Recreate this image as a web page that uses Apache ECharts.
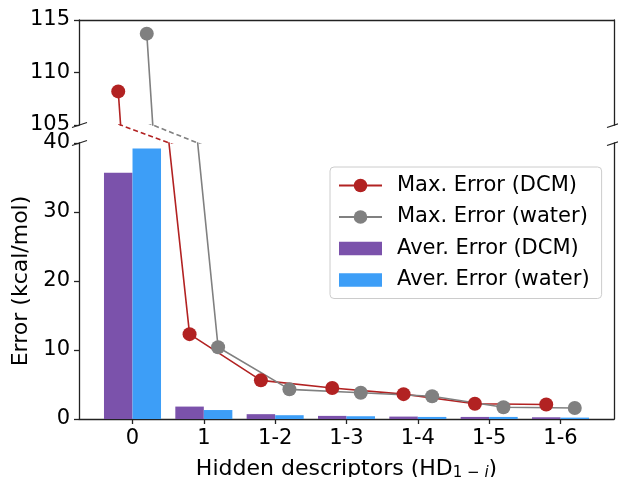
<!DOCTYPE html>
<html>
<head>
<meta charset="utf-8">
<script src="https://cdn.jsdelivr.net/npm/echarts@6/dist/echarts.min.js"></script>
<style>
  html, body { margin: 0; padding: 0; background: #fff; }
  #chart { width: 618px; height: 477px; }
</style>
</head>
<body>
<div id="chart"></div>
<script>
const categories = ['0', '1', '1-2', '1-3', '1-4', '1-5', '1-6'];
const max_dcm = [108.2, 12.3, 5.6, 4.5, 3.6, 2.2, 2.1];
const max_water = [113.7, 10.4, 4.3, 3.8, 3.3, 1.7, 1.6];
const aver_dcm = [35.7, 1.8, 0.7, 0.45, 0.35, 0.3, 0.25];
const aver_water = [39.2, 1.3, 0.55, 0.4, 0.3, 0.3, 0.2];

const red = '#b22222';
const grey = '#808080';
const purple = '#7b52ab';
const blue = '#3d9ef7';
const axis_color = '#222';
const font = 'DejaVu Sans';
const shift = 0.2;  // half the group width, DCM left / water right
const x_min = -0.75;
const x_max = 6.75;
// flat patch for the bar entries, so the legend can stay tall enough for the dots
const patch_icon = 'path://M0,0 L41,0 L41,13 L0,13 Z';

const at = (arr, d) => arr.map((v, i) => [i + d, v]);

const chart = echarts.init(document.getElementById('chart'));

const axis_line = { show: true, onZero: false, lineStyle: { color: axis_color, width: 1.3 } };
const tick = { show: true, length: 5, inside: false, lineStyle: { color: axis_color, width: 1.3 } };
const label = { color: '#000', fontSize: 21, fontFamily: font, margin: 9 };

function line_series(name, data, color, x_idx, y_idx, dashed) {
    return {
        name: name,
        type: 'line',
        xAxisIndex: x_idx,
        yAxisIndex: y_idx,
        data: data,
        clip: true,
        symbol: dashed ? 'none' : 'circle',
        symbolSize: 14,
        showSymbol: !dashed,
        itemStyle: { color: color },
        lineStyle: { color: color, width: 1.6, type: dashed ? [5, 3] : 'solid' },
        z: 5,
        animation: false,
    };
}

const option = {
    animation: false,
    grid: [
        { left: 79, right: 4, top: 20, height: 105, outerBoundsMode: 'none' },   // 105 - 115
        { left: 79, right: 4, top: 125, height: 18, outerBoundsMode: 'none' },   // gap, 40 - 105
        { left: 79, right: 4, top: 143, height: 276, outerBoundsMode: 'none' },  // 0 - 40
    ],
    xAxis: [
        {
            type: 'value', gridIndex: 0, position: 'top', min: x_min, max: x_max,
            axisLine: axis_line, axisTick: { show: false }, axisLabel: { show: false }, splitLine: { show: false },
        },
        {
            type: 'value', gridIndex: 1, min: x_min, max: x_max, show: false,
        },
        {
            type: 'value', gridIndex: 2, min: x_min, max: x_max,
            axisLine: axis_line,
            axisTick: Object.assign({ customValues: categories.map((_, i) => i) }, tick),
            axisLabel: Object.assign({
                customValues: categories.map((_, i) => i),
                formatter: (v) => categories[Math.round(v)],
            }, label),
            splitLine: { show: false },
            name: 'Hidden descriptors (HD{sub|1 − }{subi|i})',
            nameLocation: 'middle',
            nameGap: 38,
            nameTextStyle: {
                color: '#000', fontSize: 22, fontFamily: font,
                rich: {
                    sub: { fontSize: 15, fontFamily: font, color: '#000', verticalAlign: 'bottom', padding: [9, 0, 0, 0] },
                    subi: { fontSize: 15, fontFamily: font, fontStyle: 'italic', color: '#000', verticalAlign: 'bottom', padding: [9, 0, 0, 0] },
                },
            },
        },
    ],
    yAxis: [
        {
            type: 'value', gridIndex: 0, min: 105, max: 115, interval: 5,
            axisLine: axis_line, axisTick: tick, axisLabel: label, splitLine: { show: false },
        },
        {
            type: 'value', gridIndex: 0, position: 'right', min: 105, max: 115,
            axisLine: axis_line, axisTick: { show: false }, axisLabel: { show: false }, splitLine: { show: false },
        },
        {
            type: 'value', gridIndex: 1, min: 40, max: 105, show: false,
        },
        {
            type: 'value', gridIndex: 2, min: 0, max: 40, interval: 10,
            axisLine: axis_line, axisTick: tick, axisLabel: label, splitLine: { show: false },
            name: 'Error (kcal/mol)',
            nameLocation: 'middle',
            nameGap: 43,
            nameTextStyle: { color: '#000', fontSize: 22, fontFamily: font },
        },
        {
            type: 'value', gridIndex: 2, position: 'right', min: 0, max: 40,
            axisLine: axis_line, axisTick: { show: false }, axisLabel: { show: false }, splitLine: { show: false },
        },
    ],
    legend: {
        orient: 'vertical',
        left: 330,
        top: 167,
        padding: [8, 12, 8, 8],
        itemGap: 10.5,
        itemWidth: 43,
        itemHeight: 17,
        borderColor: '#cccccc',
        borderWidth: 1,
        borderRadius: 4,
        backgroundColor: 'rgba(255,255,255,0.8)',
        textStyle: { color: '#000', fontSize: 21, fontFamily: font, padding: [0, 0, 0, 10] },
        data: [
            'Max. Error (DCM)',
            'Max. Error (water)',
            { name: 'Aver. Error (DCM)', icon: patch_icon },
            { name: 'Aver. Error (water)', icon: patch_icon },
        ],
    },
    series: [
        line_series('Max. Error (DCM)', at(max_dcm, -shift), red, 2, 3, false),
        line_series('Max. Error (water)', at(max_water, shift), grey, 2, 3, false),
        line_series('Max. Error (DCM)', at(max_dcm, -shift), red, 0, 0, false),
        line_series('Max. Error (water)', at(max_water, shift), grey, 0, 0, false),
        line_series('Max. Error (DCM)', at(max_dcm, -shift), red, 1, 2, true),
        line_series('Max. Error (water)', at(max_water, shift), grey, 1, 2, true),
        {
            name: 'Aver. Error (DCM)',
            type: 'bar',
            xAxisIndex: 2,
            yAxisIndex: 3,
            data: at(aver_dcm, -shift),
            barWidth: 28.5,
            barGap: '-100%',
            itemStyle: { color: purple },
            z: 2,
        },
        {
            name: 'Aver. Error (water)',
            type: 'bar',
            xAxisIndex: 2,
            yAxisIndex: 3,
            data: at(aver_water, shift),
            barWidth: 28.5,
            barGap: '-100%',
            itemStyle: { color: blue },
            z: 2,
        },
    ],
};

chart.setOption(option);

// break marks at the axis gap, placed from the axes' own scales
const marks = [];
[[0, 105], [2, 40]].forEach(([g, v]) => {
    [x_min, x_max].forEach((xv) => {
        const p = chart.convertToPixel({ gridIndex: g }, [xv, v]);
        marks.push({
            type: 'line',
            shape: { x1: p[0] - 7, y1: p[1] + 2.5, x2: p[0] + 8, y2: p[1] - 2.5 },
            style: { stroke: axis_color, lineWidth: 1.3 },
            z: 10,
        });
    });
});
chart.setOption({ graphic: marks });
</script>
</body>
</html>
